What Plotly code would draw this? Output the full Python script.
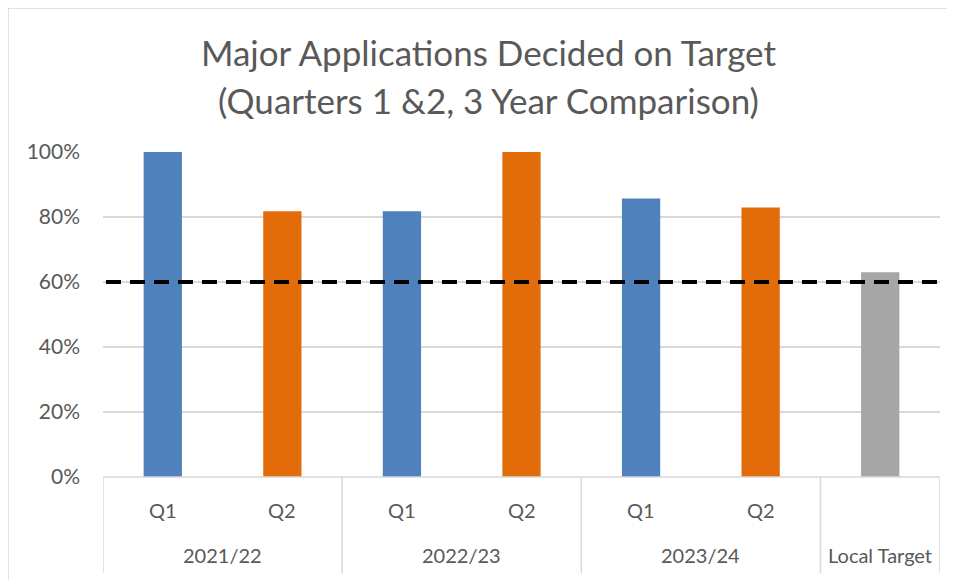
import plotly.graph_objects as go

years = ["2021/22", "2021/22", "2022/23", "2022/23", "2023/24", "2023/24", "Local Target"]
quarters = ["Q1", "Q2", "Q1", "Q2", "Q1", "Q2", ""]
values = [1.00, 0.818, 0.818, 1.00, 0.857, 0.829, 0.63]
bar_colors = ["#4F81BD", "#E36C0A", "#4F81BD", "#E36C0A", "#4F81BD", "#E36C0A", "#A6A6A6"]
target_line = 0.60
y_ticks = [0, 0.2, 0.4, 0.6, 0.8, 1.0]
y_labels = ["0%", "20%", "40%", "60%", "80%", "100%"]
title_lines = ["Major Applications Decided on Target", "(Quarters 1 &2, 3 Year Comparison)"]

FONT = "Lato"
GREY = "#595959"
LINE = "#D9D9D9"

# page body has an 8px offset; figure is sized/positioned to compensate
W, H = 947, 572
L, R, T, B = 95, 15, 144, 103
PW = W - L - R
PH = H - T - B

idx = list(range(len(values)))

fig = go.Figure()
fig.add_trace(go.Bar(
    x=idx, y=values,
    marker=dict(color=bar_colors, line=dict(width=0)),
    width=0.32,
    showlegend=False,
))

# target dashed line
fig.add_shape(type="line", xref="paper", yref="y",
              x0=3 / PW, x1=1 - 3 / PW, y0=target_line, y1=target_line,
              line=dict(color="black", width=4, dash="15px,9px"))

# category labels (quarter row and year row)
q_y = -33 / PH
yr_y = -78 / PH
div_bottom = -96 / PH
for i, q in enumerate(quarters):
    if q:
        fig.add_annotation(x=i, y=q_y, xref="x", yref="paper", text=q, showarrow=False,
                           font=dict(family=FONT, size=20, color=GREY),
                           xanchor="center", yanchor="middle")

# group years and dividers
groups = []
for i, yv in enumerate(years):
    if groups and groups[-1][0] == yv:
        groups[-1][2] = i
    else:
        groups.append([yv, i, i])
for name, a, b in groups:
    fig.add_annotation(x=(a + b) / 2, y=yr_y, xref="x", yref="paper", text=name, showarrow=False,
                       font=dict(family=FONT, size=20, color=GREY),
                       xanchor="center", yanchor="middle")
bounds = [groups[0][1] - 0.5] + [g[2] + 0.5 for g in groups]
for bx in bounds:
    fig.add_shape(type="line", xref="x", yref="paper", x0=bx, x1=bx, y0=0, y1=div_bottom,
                  line=dict(color=LINE, width=1.5))
# axis baseline
fig.add_shape(type="line", xref="paper", yref="paper", x0=0, x1=1, y0=0, y1=0,
              line=dict(color=LINE, width=1.5))

# title lines
title_x = (480 - L) / PW
fig.add_annotation(x=title_x, xref="paper", y=(T + PH - 44) / PH, yref="paper", text=title_lines[0],
                   showarrow=False, font=dict(family=FONT, size=35, color=GREY),
                   xanchor="center", yanchor="middle")
fig.add_annotation(x=title_x, xref="paper", y=(T + PH - 92) / PH, yref="paper", text=title_lines[1],
                   showarrow=False, font=dict(family=FONT, size=35, color=GREY),
                   xanchor="center", yanchor="middle")

# outer chart border (left and top)
bx0 = -L / PW
by1 = (PH + T) / PH
fig.add_shape(type="line", xref="paper", yref="paper", x0=bx0, x1=bx0, y0=-B / PH, y1=by1,
              line=dict(color=LINE, width=1.5))
fig.add_shape(type="line", xref="paper", yref="paper", x0=bx0, x1=(PW + R) / PW, y0=by1, y1=by1,
              line=dict(color=LINE, width=1.5))

fig.update_layout(
    width=W, height=H,
    margin=dict(l=L, r=R, t=T, b=B, autoexpand=False),
    paper_bgcolor="white", plot_bgcolor="white",
    font=dict(family=FONT, color=GREY),
    showlegend=False,
)
fig.update_yaxes(range=[0, 1.0], tickvals=y_ticks, ticktext=y_labels,
                 showgrid=True, gridcolor=LINE, gridwidth=1.5,
                 zeroline=False, showline=False,
                 tickfont=dict(family=FONT, size=21, color=GREY), ticks="",
                 ticklabelstandoff=22)
fig.update_xaxes(range=[-0.5, len(values) - 0.5], showticklabels=False, ticks="",
                 showgrid=False, zeroline=False, showline=False)

fig.write_html("out.html")
